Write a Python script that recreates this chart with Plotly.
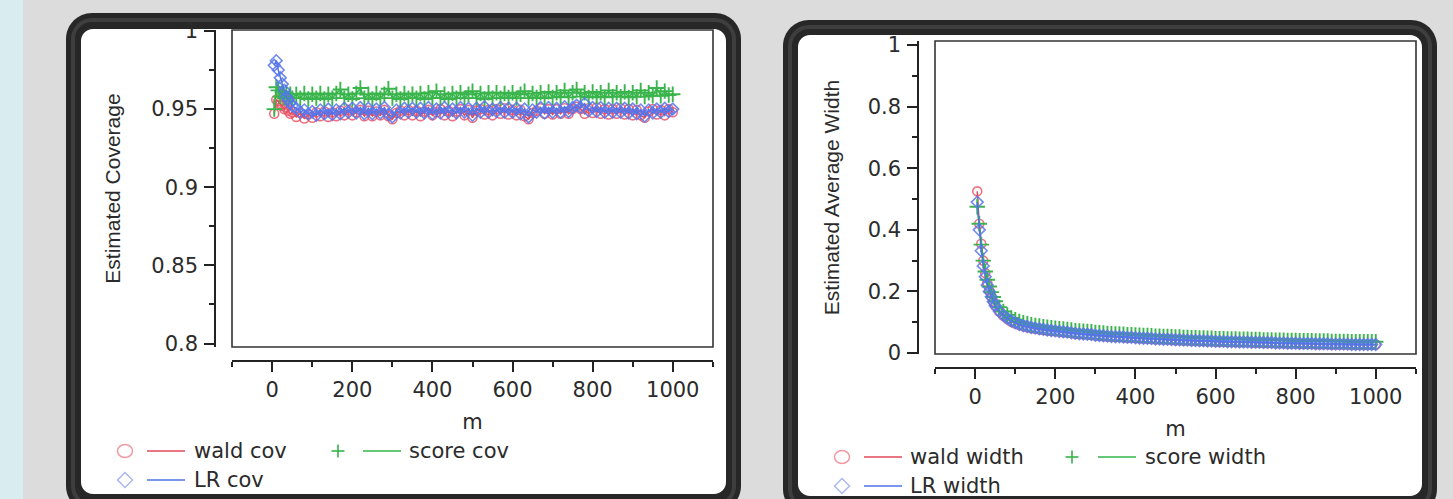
import plotly.graph_objects as go

# ---------------- data ----------------
M = [5, 10, 15, 20, 25, 30, 35, 40, 45, 50] + list(range(60, 1001, 10))

wald_cov = [
    0.947, 0.956, 0.955, 0.953, 0.952, 0.950, 0.951, 0.949, 0.947, 0.948,
    0.945, 0.9475, 0.944, 0.9465, 0.9445, 0.948, 0.9455, 0.9485, 0.945, 0.948,
    0.9455, 0.949, 0.946, 0.9495, 0.946, 0.948, 0.9495, 0.9455, 0.949, 0.9455,
    0.9485, 0.946, 0.9495, 0.9455, 0.9435, 0.9475, 0.949, 0.946, 0.9495, 0.946,
    0.949, 0.9455, 0.9485, 0.9495, 0.946, 0.948, 0.950, 0.946, 0.949, 0.9455,
    0.9485, 0.950, 0.946, 0.9495, 0.9445, 0.949, 0.950, 0.9465, 0.9495, 0.946,
    0.950, 0.947, 0.9505, 0.9465, 0.9495, 0.946, 0.9495, 0.9455, 0.9435, 0.9475,
    0.949, 0.9505, 0.947, 0.950, 0.9465, 0.950, 0.947, 0.9505, 0.947, 0.950,
    0.9515, 0.950, 0.947, 0.9505, 0.9475, 0.951, 0.947, 0.950, 0.9465, 0.950,
    0.947, 0.9505, 0.9465, 0.950, 0.946, 0.9495, 0.946, 0.9445, 0.9485, 0.950,
    0.9465, 0.9495, 0.946, 0.950, 0.948,
]
score_cov = [
    0.950, 0.964, 0.962, 0.958, 0.961, 0.957, 0.960, 0.957, 0.9595, 0.957,
    0.9595, 0.957, 0.960, 0.9565, 0.9595, 0.957, 0.960, 0.9565, 0.9595, 0.957,
    0.960, 0.9625, 0.957, 0.9595, 0.9565, 0.960, 0.9635, 0.957, 0.9595, 0.9565,
    0.960, 0.957, 0.9595, 0.963, 0.957, 0.9595, 0.9565, 0.960, 0.957, 0.9595,
    0.957, 0.960, 0.9565, 0.9605, 0.957, 0.9615, 0.957, 0.9595, 0.9565, 0.960,
    0.957, 0.9605, 0.957, 0.9595, 0.9615, 0.957, 0.960, 0.9565, 0.9605, 0.957,
    0.9605, 0.957, 0.960, 0.9575, 0.9605, 0.957, 0.9595, 0.9615, 0.957, 0.960,
    0.9575, 0.9605, 0.957, 0.961, 0.9575, 0.9605, 0.958, 0.962, 0.9575, 0.9605,
    0.9625, 0.958, 0.9605, 0.9575, 0.961, 0.958, 0.9605, 0.9575, 0.962, 0.958,
    0.9605, 0.958, 0.961, 0.9575, 0.9605, 0.958, 0.962, 0.958, 0.9605, 0.9585,
    0.9635, 0.9585, 0.9615, 0.959, 0.9595,
]
lr_cov = [
    0.978, 0.981, 0.975, 0.970, 0.966, 0.962, 0.958, 0.956, 0.954, 0.952,
    0.9505, 0.948, 0.9495, 0.947, 0.9485, 0.946, 0.9495, 0.947, 0.950, 0.9465,
    0.9495, 0.947, 0.9505, 0.948, 0.9505, 0.9475, 0.951, 0.947, 0.9505, 0.947,
    0.950, 0.9475, 0.951, 0.9465, 0.945, 0.9495, 0.9475, 0.9505, 0.948, 0.9505,
    0.948, 0.9505, 0.9475, 0.951, 0.947, 0.950, 0.9475, 0.951, 0.948, 0.950,
    0.9475, 0.951, 0.948, 0.9505, 0.946, 0.9505, 0.948, 0.9515, 0.948, 0.950,
    0.9485, 0.951, 0.948, 0.9505, 0.948, 0.9505, 0.947, 0.950, 0.945, 0.9495,
    0.948, 0.951, 0.9475, 0.951, 0.948, 0.9505, 0.948, 0.9515, 0.9485, 0.951,
    0.9525, 0.951, 0.9535, 0.949, 0.951, 0.9485, 0.951, 0.948, 0.9505, 0.948,
    0.9505, 0.948, 0.9505, 0.9475, 0.950, 0.947, 0.9495, 0.9455, 0.9495, 0.9475,
    0.950, 0.948, 0.9505, 0.9485, 0.950,
]

wald_width = [
    0.525, 0.42, 0.355, 0.30, 0.26, 0.228, 0.203, 0.184, 0.167, 0.153,
    0.134, 0.121, 0.111, 0.102, 0.096, 0.091, 0.087, 0.084, 0.081, 0.079,
    0.077, 0.075, 0.073, 0.072, 0.071, 0.069, 0.068, 0.067, 0.065, 0.063,
    0.062, 0.061, 0.060, 0.059, 0.057, 0.056, 0.055, 0.054, 0.053, 0.052,
    0.052, 0.051, 0.050, 0.050, 0.049, 0.048, 0.047, 0.047, 0.046, 0.045,
    0.045, 0.044, 0.044, 0.043, 0.042, 0.042, 0.041, 0.041, 0.040, 0.040,
    0.039, 0.039, 0.038, 0.038, 0.037, 0.037, 0.037, 0.036, 0.036, 0.036,
    0.035, 0.035, 0.035, 0.034, 0.034, 0.034, 0.033, 0.033, 0.033, 0.032,
    0.032, 0.032, 0.031, 0.031, 0.031, 0.030, 0.030, 0.030, 0.030, 0.029,
    0.029, 0.029, 0.029, 0.028, 0.028, 0.028, 0.028, 0.028, 0.027, 0.027,
    0.027, 0.027, 0.027, 0.027, 0.027,
]
score_width = [
    0.475, 0.42, 0.352, 0.30, 0.265, 0.238, 0.216, 0.198, 0.182, 0.168,
    0.149, 0.135, 0.124, 0.114, 0.108, 0.103, 0.099, 0.095, 0.092, 0.090,
    0.088, 0.086, 0.084, 0.082, 0.081, 0.079, 0.078, 0.077, 0.075, 0.073,
    0.072, 0.071, 0.070, 0.069, 0.067, 0.066, 0.065, 0.064, 0.063, 0.062,
    0.062, 0.061, 0.060, 0.060, 0.059, 0.058, 0.057, 0.057, 0.056, 0.055,
    0.055, 0.054, 0.054, 0.053, 0.052, 0.052, 0.051, 0.051, 0.050, 0.050,
    0.049, 0.049, 0.048, 0.048, 0.047, 0.047, 0.047, 0.046, 0.046, 0.046,
    0.045, 0.045, 0.045, 0.044, 0.044, 0.044, 0.043, 0.043, 0.043, 0.042,
    0.042, 0.042, 0.041, 0.041, 0.041, 0.040, 0.040, 0.040, 0.040, 0.039,
    0.039, 0.039, 0.039, 0.038, 0.038, 0.038, 0.038, 0.038, 0.037, 0.037,
    0.037, 0.037, 0.037, 0.037, 0.037,
]
lr_width = [
    0.49, 0.40, 0.332, 0.283, 0.248, 0.221, 0.200, 0.183, 0.167, 0.154,
    0.136, 0.123, 0.113, 0.104, 0.098, 0.093, 0.089, 0.086, 0.083, 0.081,
    0.079, 0.077, 0.075, 0.073, 0.072, 0.070, 0.069, 0.068, 0.066, 0.064,
    0.063, 0.062, 0.061, 0.060, 0.058, 0.057, 0.056, 0.055, 0.054, 0.053,
    0.053, 0.052, 0.051, 0.051, 0.050, 0.049, 0.048, 0.048, 0.047, 0.046,
    0.046, 0.045, 0.045, 0.044, 0.043, 0.043, 0.042, 0.042, 0.041, 0.041,
    0.040, 0.040, 0.039, 0.039, 0.038, 0.038, 0.038, 0.037, 0.037, 0.037,
    0.036, 0.036, 0.036, 0.035, 0.035, 0.035, 0.034, 0.034, 0.034, 0.033,
    0.033, 0.033, 0.032, 0.032, 0.032, 0.031, 0.031, 0.031, 0.031, 0.030,
    0.030, 0.030, 0.030, 0.029, 0.029, 0.029, 0.029, 0.029, 0.028, 0.028,
    0.028, 0.028, 0.028, 0.028, 0.028,
]

left_names = ["wald cov", "score cov", "LR cov"]
right_names = ["wald width", "score width", "LR width"]
x_title = "m"
left_ytitle = "Estimated Coverage"
right_ytitle = "Estimated Average Width"

# ---------------- styling ----------------
W, H = 1453, 499
RED, GREEN, BLUE = "#e0485a", "#33b449", "#4f72e8"
RED_M, GREEN_M, BLUE_M = "rgba(232,78,96,0.8)", "#3ab54c", "rgba(86,118,236,0.85)"
RED_L, BLUE_L = "#f09aa3", "#aab8f0"
TXT = "#2b2b2b"
AX = "#222222"
HFONT = "DejaVu Sans"
VFONT = "Liberation Sans, Arial, sans-serif"
FS = 21


def fx(p):
    return p / W


def fy(p):
    return 1 - p / H


def rrect(x0, y0, x1, y1, r):
    k = 0.5523 * r

    def P(x, y):
        return f"{fx(x):.6f},{fy(y):.6f}"

    return (f"M {P(x0 + r, y0)} L {P(x1 - r, y0)} "
            f"C {P(x1 - r + k, y0)} {P(x1, y0 + r - k)} {P(x1, y0 + r)} "
            f"L {P(x1, y1 - r)} "
            f"C {P(x1, y1 - r + k)} {P(x1 - r + k, y1)} {P(x1 - r, y1)} "
            f"L {P(x0 + r, y1)} "
            f"C {P(x0 + r - k, y1)} {P(x0, y1 - r + k)} {P(x0, y1 - r)} "
            f"L {P(x0, y0 + r)} "
            f"C {P(x0, y0 + r - k)} {P(x0 + r - k, y0)} {P(x0 + r, y0)} Z")


fig = go.Figure()

panels = [
    dict(xa="x", ya="y", ys=[wald_cov, score_cov, lr_cov]),
    dict(xa="x2", ya="y2", ys=[wald_width, score_width, lr_width]),
]
for p, names in zip(panels, [left_names, right_names]):
    wy, sy, ly = p["ys"]
    fig.add_trace(go.Scatter(
        x=M, y=wy, mode="lines+markers", name=names[0], xaxis=p["xa"], yaxis=p["ya"],
        line=dict(color=RED, width=1.5),
        marker=dict(symbol="circle-open", size=9, color=RED_M, line=dict(width=1.6)),
        showlegend=False))
    fig.add_trace(go.Scatter(
        x=M, y=sy, mode="lines+markers", name=names[1], xaxis=p["xa"], yaxis=p["ya"],
        line=dict(color=GREEN, width=1.5),
        marker=dict(symbol="cross-thin", size=11, color=GREEN_M,
                    line=dict(width=1.9, color=GREEN_M)),
        showlegend=False))
    fig.add_trace(go.Scatter(
        x=M, y=ly, mode="lines+markers", name=names[2], xaxis=p["xa"], yaxis=p["ya"],
        line=dict(color=BLUE, width=1.5),
        marker=dict(symbol="diamond-open", size=9, color=BLUE_M, line=dict(width=1.6)),
        showlegend=False))

tickfont = dict(family=HFONT, size=FS, color=TXT)


def xaxis_cfg(x0, x1, ypos):
    return dict(
        domain=[fx(x0), fx(x1)], anchor="free", position=fy(ypos), automargin=False,
        range=[-100.5, 1100.5], tick0=0, dtick=200,
        ticks="outside", ticklen=10, tickwidth=1.5, tickcolor=AX,
        showline=True, linecolor=AX, linewidth=1.5,
        minor=dict(dtick=100, ticks="outside", ticklen=5, tickwidth=1.5, tickcolor=AX),
        showgrid=False, zeroline=False, tickfont=tickfont, ticklabelstandoff=0,
        title=dict(text=x_title, font=dict(family=HFONT, size=FS, color=TXT), standoff=12),
    )


def yaxis_cfg(y0, y1, xpos, rng, dt, mdt, t0, title, standoff):
    return dict(
        domain=[fy(y1), fy(y0)], anchor="free", position=fx(xpos), automargin=False,
        range=rng, tick0=t0, dtick=dt,
        ticks="outside", ticklen=10, tickwidth=1.5, tickcolor=AX,
        showline=True, linecolor=AX, linewidth=1.5,
        minor=dict(dtick=mdt, ticks="outside", ticklen=5, tickwidth=1.5, tickcolor=AX),
        showgrid=False, zeroline=False, tickfont=tickfont, ticklabelstandoff=2,
        title=dict(text=title, font=dict(family=VFONT, size=FS, color=TXT), standoff=standoff),
    )


shapes = []
# page strip
shapes.append(dict(type="rect", xref="paper", yref="paper", x0=0, x1=fx(23), y0=0, y1=1,
                   fillcolor="#d9ecef", line=dict(width=0), layer="below"))
# panels
for (ox0, oy0, ox1, oy1, ix0, iy0, ix1, iy1) in [
        (66, 13, 741, 512, 81, 29, 726, 494),
        (783, 20, 1437, 515, 798, 35, 1422, 496)]:
    shapes.append(dict(type="path", xref="paper", yref="paper", path=rrect(ox0, oy0, ox1, oy1, 26),
                       fillcolor="#272727", line=dict(width=0), layer="below"))
    shapes.append(dict(type="path", xref="paper", yref="paper",
                       path=rrect(ox0 + 7, oy0 + 7, ox1 - 7, oy1 - 7, 19),
                       fillcolor="rgba(0,0,0,0)", line=dict(width=4, color="#3e3e3e"), layer="below"))
    shapes.append(dict(type="path", xref="paper", yref="paper", path=rrect(ix0, iy0, ix1, iy1, 12),
                       fillcolor="white", line=dict(width=0), layer="below"))

# plot boxes
for xr, yr in [("x domain", "y domain"), ("x2 domain", "y2 domain")]:
    shapes.append(dict(type="rect", xref=xr, yref=yr, x0=0, x1=1, y0=0, y1=1,
                       line=dict(color="#333333", width=1.6), fillcolor="rgba(0,0,0,0)", layer="above"))

annotations = []


def legend(cx, y1, y2, line_x0, line_x1, text_x, plus_x, gline_x0, gline_x1, gtext_x, names):
    # row 1: wald
    shapes.append(dict(type="circle", xref="paper", yref="paper",
                       x0=fx(cx - 7.5), x1=fx(cx + 7.5), y0=fy(y1 + 6.5), y1=fy(y1 - 6.5),
                       line=dict(color=RED_L, width=1.5)))
    shapes.append(dict(type="line", xref="paper", yref="paper",
                       x0=fx(line_x0), x1=fx(line_x1), y0=fy(y1), y1=fy(y1),
                       line=dict(color=RED, width=1.5)))
    annotations.append(dict(text=names[0], x=fx(text_x), y=fy(y1), xref="paper", yref="paper",
                            xanchor="left", yanchor="middle", showarrow=False,
                            font=dict(family=HFONT, size=FS, color=TXT)))
    # row 1: score
    shapes.append(dict(type="line", xref="paper", yref="paper",
                       x0=fx(plus_x - 6.5), x1=fx(plus_x + 6.5), y0=fy(y1), y1=fy(y1),
                       line=dict(color=GREEN, width=1.6)))
    shapes.append(dict(type="line", xref="paper", yref="paper",
                       x0=fx(plus_x), x1=fx(plus_x), y0=fy(y1 - 6.5), y1=fy(y1 + 6.5),
                       line=dict(color=GREEN, width=1.6)))
    shapes.append(dict(type="line", xref="paper", yref="paper",
                       x0=fx(gline_x0), x1=fx(gline_x1), y0=fy(y1), y1=fy(y1),
                       line=dict(color=GREEN, width=1.5)))
    annotations.append(dict(text=names[1], x=fx(gtext_x), y=fy(y1), xref="paper", yref="paper",
                            xanchor="left", yanchor="middle", showarrow=False,
                            font=dict(family=HFONT, size=FS, color=TXT)))
    # row 2: LR
    d = 7.5
    dp = (f"M {fx(cx - d):.6f},{fy(y2):.6f} L {fx(cx):.6f},{fy(y2 - d):.6f} "
          f"L {fx(cx + d):.6f},{fy(y2):.6f} L {fx(cx):.6f},{fy(y2 + d):.6f} Z")
    shapes.append(dict(type="path", xref="paper", yref="paper", path=dp,
                       line=dict(color=BLUE_L, width=1.5)))
    shapes.append(dict(type="line", xref="paper", yref="paper",
                       x0=fx(line_x0), x1=fx(line_x1), y0=fy(y2), y1=fy(y2),
                       line=dict(color=BLUE, width=1.5)))
    annotations.append(dict(text=names[2], x=fx(text_x), y=fy(y2), xref="paper", yref="paper",
                            xanchor="left", yanchor="middle", showarrow=False,
                            font=dict(family=HFONT, size=FS, color=TXT)))


legend(125, 451, 480, 147, 185, 192, 338, 363, 401, 407, left_names)
legend(842, 457, 486, 864, 902, 908, 1072, 1098, 1136, 1143, right_names)

fig.update_layout(
    width=W, height=H, margin=dict(l=0, r=0, t=0, b=0, pad=0, autoexpand=False),
    paper_bgcolor="#dcdcdc", plot_bgcolor="rgba(0,0,0,0)",
    showlegend=False,
    xaxis=xaxis_cfg(232, 713, 361),
    yaxis=yaxis_cfg(30, 347, 215, [0.7978, 1.0006], 0.05, 0.025, 0.8, left_ytitle, 24),
    xaxis2=xaxis_cfg(935, 1416, 368),
    yaxis2=yaxis_cfg(41, 354, 918, [-0.003, 1.013], 0.2, 0.1, 0, right_ytitle, 21),
    shapes=shapes, annotations=annotations,
)

fig.write_html(
    "out.html",
    config={"displayModeBar": False},
    post_script="document.body.style.margin='0';document.body.style.overflow='hidden';",
)
